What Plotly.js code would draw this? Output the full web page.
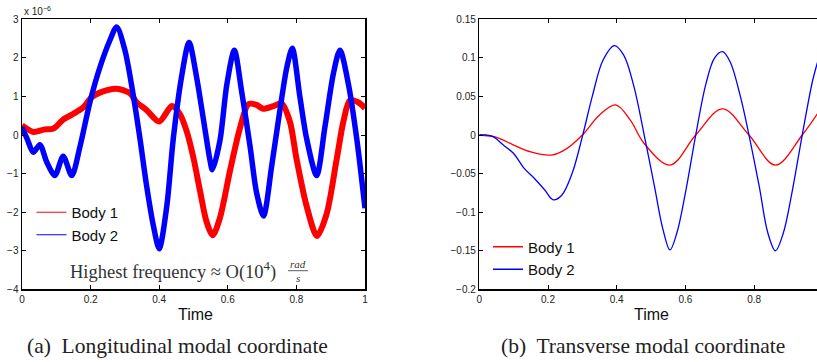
<!DOCTYPE html>
<html>
<head>
<meta charset="utf-8">
<script src="https://cdn.plot.ly/plotly-3.0.1.min.js"></script>
<style>html,body{margin:0;padding:0;background:#fff;}#chart{width:817px;height:362px;}</style>
</head>
<body>
<div id="chart"></div>
<script>
// ---- Data ----
// (a) Longitudinal modal coordinate, values in units of 1e-6
const longBody1T = [0, 0.033, 0.063, 0.092, 0.12, 0.15, 0.179, 0.203, 0.227, 0.276, 0.315, 0.334, 0.363, 0.40, 0.437, 0.46, 0.48, 0.50, 0.519, 0.538, 0.556, 0.577, 0.607, 0.636, 0.66, 0.684, 0.703, 0.733, 0.757, 0.781, 0.80, 0.83, 0.86, 0.888, 0.917, 0.937, 0.956, 0.98, 1.0];
const longBody1V = [0.25, 0.08, 0.14, 0.17, 0.4, 0.55, 0.72, 0.98, 1.1, 1.2, 1.08, 0.85, 0.65, 0.35, 0.75, 0.55, 0.1, -0.6, -1.45, -2.25, -2.6, -2.15, -0.9, 0.2, 0.8, 0.78, 0.68, 0.75, 0.82, 0.35, -0.6, -1.85, -2.62, -2.05, -0.65, 0.35, 0.9, 0.85, 0.7];
const longBody2T = [0, 0.015, 0.033, 0.052, 0.072, 0.096, 0.12, 0.145, 0.169, 0.198, 0.227, 0.256, 0.276, 0.30, 0.325, 0.344, 0.363, 0.383, 0.40, 0.422, 0.441, 0.465, 0.487, 0.509, 0.529, 0.548, 0.555, 0.577, 0.597, 0.619, 0.64, 0.665, 0.684, 0.704, 0.728, 0.752, 0.772, 0.788, 0.81, 0.83, 0.859, 0.883, 0.908, 0.927, 0.951, 0.976, 1.0];
const longBody2V = [0.2, -0.1, -0.45, -0.25, -0.7, -1.05, -0.55, -1.05, -0.3, 0.85, 1.75, 2.45, 2.8, 2.2, 1.0, -0.1, -1.3, -2.35, -2.95, -1.85, -0.1, 1.5, 2.4, 1.5, 0.4, -0.65, -0.9, -0.15, 1.3, 2.2, 1.15, -0.3, -1.5, -2.1, -0.8, 0.65, 1.75, 2.25, 1.0, -0.1, -1.05, 0.2, 1.6, 2.2, 1.35, -0.1, -1.9];
// (b) Transverse modal coordinate
const tranBody1T = [0, 0.05, 0.1, 0.15, 0.21, 0.25, 0.3, 0.35, 0.397, 0.44, 0.48, 0.555, 0.63, 0.708, 0.785, 0.862, 0.94, 0.985];
const tranBody1V = [0, -0.003, -0.013, -0.022, -0.026, -0.019, 0, 0.026, 0.039, 0.019, -0.011, -0.039, 0, 0.034, 0, -0.039, 0, 0.028];
const tranBody2T = [0, 0.02, 0.04, 0.07, 0.1, 0.13, 0.16, 0.19, 0.215, 0.24, 0.27, 0.3, 0.33, 0.36, 0.393, 0.42, 0.45, 0.48, 0.51, 0.535, 0.555, 0.575, 0.6, 0.63, 0.66, 0.685, 0.708, 0.73, 0.76, 0.785, 0.815, 0.84, 0.862, 0.885, 0.91, 0.94, 0.97, 0.985];
const tranBody2V = [0, 0, -0.002, -0.013, -0.024, -0.043, -0.056, -0.071, -0.084, -0.078, -0.05, -0.002, 0.052, 0.097, 0.116, 0.104, 0.063, 0, -0.067, -0.123, -0.149, -0.127, -0.075, 0, 0.067, 0.1, 0.108, 0.095, 0.05, 0, -0.067, -0.127, -0.15, -0.127, -0.075, 0, 0.07, 0.095];

const seriesNames = ["Body 1", "Body 2"];
const leftYTicks = [-4, -3, -2, -1, 0, 1, 2, 3];
const rightYTicks = [-0.2, -0.15, -0.1, -0.05, 0, 0.05, 0.1, 0.15];
const rightYTickText = ["\u22120.2", "\u22120.15", "\u22120.1", "\u22120.05", "0", "0.05", "0.1", "0.15"];
const xTicks = [0, 0.2, 0.4, 0.6, 0.8, 1];
const captions = ["(a)  Longitudinal modal coordinate", "(b)  Transverse modal coordinate"];

// ---- Layout helpers ----
const W = 817, H = 362;
const px = x => x / W;
const py = y => 1 - y / H;
const RED = "#ff0000", BLUE = "#0000ff";
const sans = "Liberation Sans, Arial, Helvetica, sans-serif";
const serif = "Liberation Serif, Times New Roman, serif";

const traces = [
  {x: longBody1T, y: longBody1V, xaxis: "x", yaxis: "y", mode: "lines", name: seriesNames[0], line: {color: RED, width: 6, shape: "spline", smoothing: 0.8}, showlegend: false, hoverinfo: "skip"},
  {x: longBody2T, y: longBody2V, xaxis: "x", yaxis: "y", mode: "lines", name: seriesNames[1], line: {color: BLUE, width: 5.5, shape: "spline", smoothing: 0.8}, showlegend: false, hoverinfo: "skip"},
  // legend-only entries for panel (a) (thin key lines as in the reference)
  {x: [-5, -4], y: [0, 0], xaxis: "x", yaxis: "y", mode: "lines", name: seriesNames[0], line: {color: RED, width: 1.2}, legend: "legend", hoverinfo: "skip"},
  {x: [-5, -4], y: [0, 0], xaxis: "x", yaxis: "y", mode: "lines", name: seriesNames[1], line: {color: BLUE, width: 1.2}, legend: "legend", hoverinfo: "skip"},
  {x: tranBody1T, y: tranBody1V, xaxis: "x2", yaxis: "y2", mode: "lines", name: seriesNames[0], line: {color: RED, width: 1.3, shape: "spline", smoothing: 1}, legend: "legend2"},
  {x: tranBody2T, y: tranBody2V, xaxis: "x2", yaxis: "y2", mode: "lines", name: seriesNames[1], line: {color: BLUE, width: 1.3, shape: "spline", smoothing: 1}, legend: "legend2"}
];

const axCommon = {
  showgrid: false, zeroline: false, showline: true, linecolor: "#000", linewidth: 1.5,
  ticks: "inside", ticklen: 4, tickwidth: 1, tickcolor: "#000",
  tickfont: {family: sans, size: 10, color: "#222"}, automargin: false, fixedrange: true
};

const legendCommon = {xanchor: "left", yanchor: "top", bgcolor: "rgba(0,0,0,0)", borderwidth: 0, font: {family: sans, size: 15, color: "#111"}, tracegroupgap: 0, itemwidth: 30, traceorder: "normal"};

const layout = {
  width: W, height: H,
  margin: {l: 0, r: 0, t: 0, b: 0},
  paper_bgcolor: "#fff", plot_bgcolor: "#fff",
  xaxis: Object.assign({}, axCommon, {domain: [px(22), px(365)], range: [0, 1], tickvals: xTicks, ticktext: xTicks.map(String), mirror: "ticks", anchor: "y"}),
  yaxis: Object.assign({}, axCommon, {domain: [py(289.3), py(19.3)], range: [-4, 3], tickvals: leftYTicks, ticktext: leftYTicks.map(v => v < 0 ? "\u2212" + (-v) : String(v)), mirror: "ticks", anchor: "x"}),
  xaxis2: Object.assign({}, axCommon, {domain: [px(479.3), 1], range: [0, 0.983], tickvals: xTicks.slice(0, 5), ticktext: xTicks.slice(0, 5).map(String), mirror: "ticks", anchor: "y2"}),
  yaxis2: Object.assign({}, axCommon, {domain: [py(289.3), py(19.3)], range: [-0.2, 0.15], tickvals: rightYTicks, ticktext: rightYTickText, mirror: false, anchor: "x2"}),
  legend: Object.assign({}, legendCommon, {x: px(31.5), y: py(196)}),
  legend2: Object.assign({}, legendCommon, {x: px(488), y: py(230.5)}),
  shapes: [
    {type: "line", xref: "paper", yref: "paper", x0: px(288), x1: px(308), y0: py(270.7), y1: py(270.7), line: {color: "#333", width: 0.8}}
  ],
  annotations: [
    {xref: "paper", yref: "paper", x: px(22), y: py(11), xanchor: "left", yanchor: "middle", showarrow: false, text: "x 10<sup>\u22126</sup>", font: {family: sans, size: 10, color: "#222"}},
    {xref: "paper", yref: "paper", x: px(277.5), y: py(270), xanchor: "right", yanchor: "middle", showarrow: false, text: "Highest frequency \u2248 O(10<sup>4</sup>)", font: {family: serif, size: 18.5, color: "#333"}},
    {xref: "paper", yref: "paper", x: px(298), y: py(264), xanchor: "center", yanchor: "middle", showarrow: false, text: "<i>rad</i>", font: {family: serif, size: 11, color: "#333"}},
    {xref: "paper", yref: "paper", x: px(298), y: py(277.5), xanchor: "center", yanchor: "middle", showarrow: false, text: "<i>s</i>", font: {family: serif, size: 11, color: "#333"}},
    {xref: "paper", yref: "paper", x: px(195), y: py(314), xanchor: "center", yanchor: "middle", showarrow: false, text: "Time", font: {family: sans, size: 16, color: "#111"}},
    {xref: "paper", yref: "paper", x: px(651), y: py(314), xanchor: "center", yanchor: "middle", showarrow: false, text: "Time", font: {family: sans, size: 16, color: "#111"}},
    {xref: "paper", yref: "paper", x: px(177.5), y: py(345.5), xanchor: "center", yanchor: "middle", showarrow: false, text: captions[0], font: {family: serif, size: 21.5, color: "#222"}},
    {xref: "paper", yref: "paper", x: px(642.5), y: py(345.5), xanchor: "center", yanchor: "middle", showarrow: false, text: captions[1], font: {family: serif, size: 21.5, color: "#222"}}
  ]
};

Plotly.newPlot("chart", traces, layout, {staticPlot: true, displayModeBar: false});
</script>
</body>
</html>
